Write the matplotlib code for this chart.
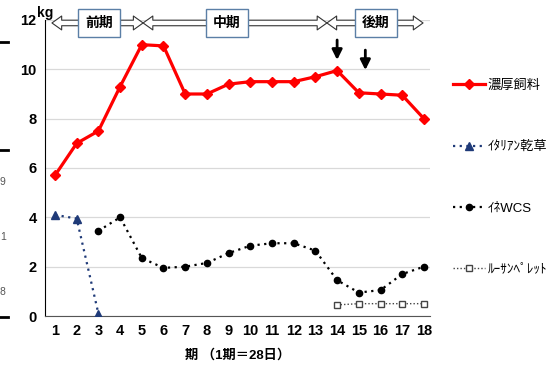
import numpy as np
import matplotlib
matplotlib.use("Agg")
import matplotlib.pyplot as plt
from matplotlib.patches import FancyArrowPatch
from matplotlib.lines import Line2D

plt.rcParams['font.family'] = ['Liberation Sans', 'Noto Sans CJK JP', 'DejaVu Sans']

# Data (kg per period)
periods = np.arange(1, 19)
nan = np.nan
concentrate = [5.7, 7.0, 7.5, 9.3, 11.0, 10.95, 9.0, 9.0, 9.4, 9.5,
               9.5, 9.5, 9.7, 9.95, 9.05, 9.0, 8.95, 8.0]
italian_hay = [4.1, 3.95, 0.1] + [nan] * 15
rice_wcs = [nan, nan, 3.45, 4.0, 2.35, 1.95, 2.0, 2.15, 2.55, 2.85,
            2.95, 2.95, 2.65, 1.45, 0.95, 1.05, 1.7, 2.0]
lucerne = [nan] * 13 + [0.45, 0.5, 0.5, 0.5, 0.5]

labels = ["濃厚飼料", "ｲﾀﾘｱﾝ乾草", "ｲﾈWCS", "ﾙｰｻﾝﾍﾟﾚｯﾄ"]
phase_names = ["前期", "中期", "後期"]
phase_bounds = [(0.86, 5.06), (5.06, 13.53), (13.53, 17.96)]
phase_centers = [3.03, 8.93, 15.79]

fig = plt.figure(figsize=(5.59, 3.67), dpi=100)
ax = fig.add_axes([45/559, 51/367, 385/559, 296/367])

l1, = ax.plot(periods, concentrate, color="#ff0000", lw=2.3, marker="D",
              ms=5, zorder=4)
l2, = ax.plot(periods, italian_hay, color="#1f3a78", lw=1.6, ls=(0, (1, 2)),
              marker="^", ms=5.5, zorder=3)
l3, = ax.plot(periods, rice_wcs, color="black", lw=1.6, ls=(0, (1, 2)),
              marker="o", ms=4.5, zorder=3)
l4, = ax.plot(periods, lucerne, color="#444444", lw=1.0, ls=(0, (1, 1.5)),
              marker="s", ms=4, mfc="white", mec="#444444", zorder=3)

ax.set_xlim(0.54, 18.28)
ax.set_ylim(0, 12)
ax.set_xticks(periods)
ax.set_yticks(range(0, 13, 2))
ax.tick_params(axis="both", length=0, labelsize=10.5, pad=6)
for t in ax.get_xticklabels() + ax.get_yticklabels():
    t.set_fontweight("bold")
ax.yaxis.grid(True, color="#d9d9d9", lw=0.9)
ax.set_axisbelow(True)
for s in ["top", "right"]:
    ax.spines[s].set_visible(False)
ax.spines["left"].set_color("black")
ax.spines["bottom"].set_color("#555555")

ax.text(0, 1.0, "kg", transform=ax.transAxes, ha="center", va="bottom",
        fontsize=10, fontweight="bold")
ax.set_xlabel("期 （1期＝28日）", fontsize=9.5, fontweight="bold", labelpad=8)

# Phase arrows at the top
y_arr = 11.88
for (a, b), c, name in zip(phase_bounds, phase_centers, phase_names):
    for end in (a, b):
        arr = FancyArrowPatch((c, y_arr), (end, y_arr),
                              arrowstyle="simple,head_length=7,head_width=10,tail_width=4",
                              fc="white", ec="#333333", lw=0.8, clip_on=False,
                              zorder=5, shrinkA=0, shrinkB=0)
        ax.add_patch(arr)
    ax.text(c, y_arr, name, ha="center", va="center", fontsize=10,
            fontweight="bold", zorder=6, clip_on=False,
            bbox=dict(boxstyle="square,pad=0.5", fc="white", ec="#5b7fa6", lw=1))

# Down arrows
for x0, y0, y1 in [(14, 11.19, 10.38), (15.3, 10.78, 9.97)]:
    ax.annotate("", xy=(x0, y1), xytext=(x0, y0),
                arrowprops=dict(arrowstyle="-|>,head_length=0.6,head_width=0.3",
                                lw=2, color="black", shrinkA=0, shrinkB=0))

leg = fig.legend([l1, l2, l3, l4], labels, loc="upper left",
                 bbox_to_anchor=(441/559, 1 - 68/367), frameon=False,
                 fontsize=9.5, handlelength=2.4, labelspacing=3.7,
                 handletextpad=0.25)

# Fragments of a neighbouring chart at the left edge
for yp in [42, 150, 317]:
    fig.add_artist(Line2D([0, 8/559], [1 - yp/367] * 2, color="black", lw=2))
for yp, s in [(182, "9"), (237, "1"), (292, "8")]:
    fig.text(0, 1 - yp/367, s, fontsize=7.5, color="#555555", va="center")

fig.savefig("out.png", dpi=100)
